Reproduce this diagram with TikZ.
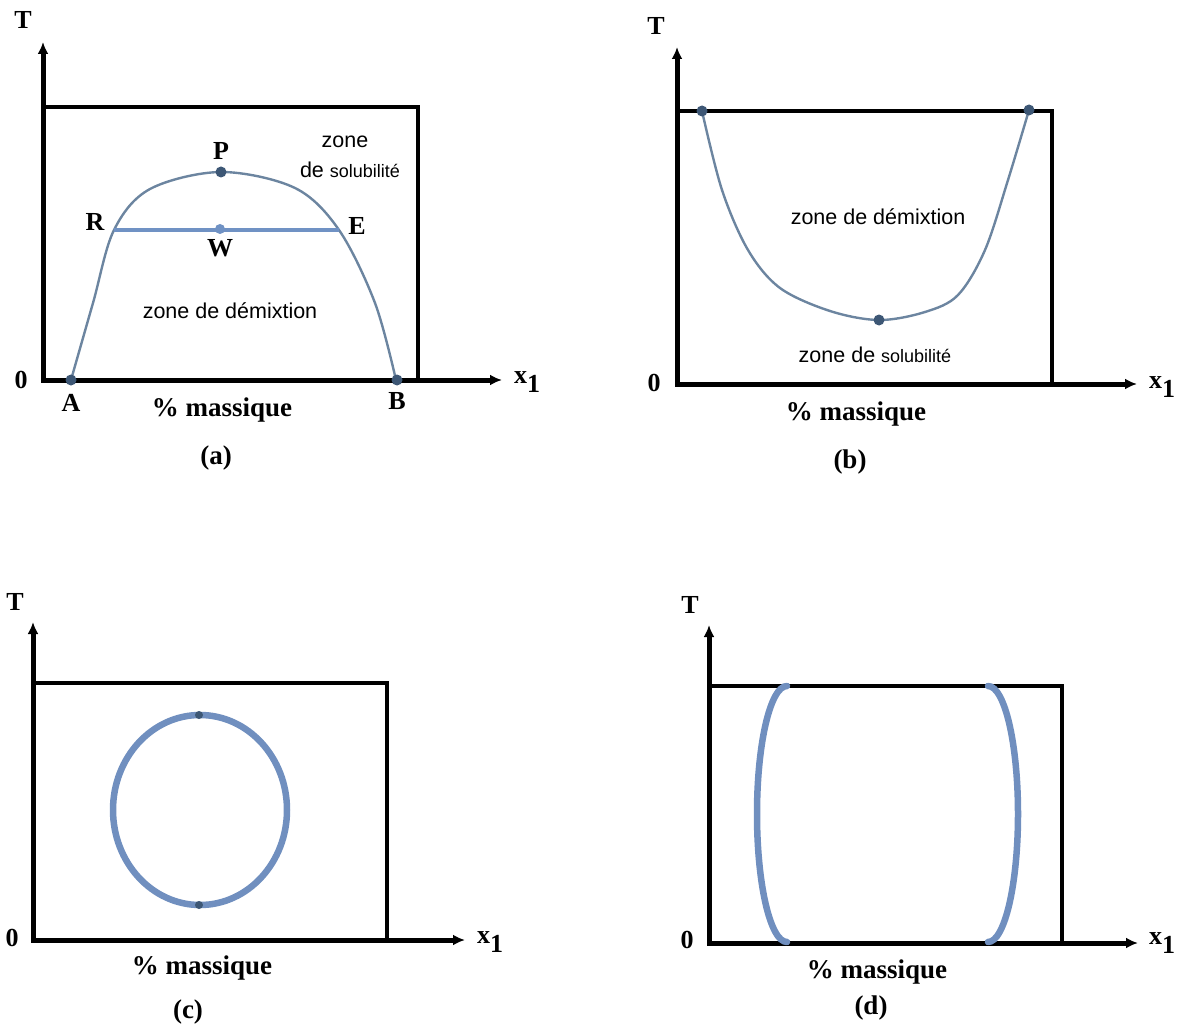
\documentclass[tikz,border=0pt]{standalone}
\usepackage{fontspec}
\setmainfont{Liberation Serif}
\newfontfamily\zonefont{Liberation Sans}
\usepackage{tikz}
\usetikzlibrary{positioning,arrows.meta}
\definecolor{binodalcolor}{RGB}{108,133,160}
\definecolor{tiecolor}{RGB}{112,146,196}
\definecolor{dotcolor}{RGB}{61,87,117}
\definecolor{lenscolor}{RGB}{112,143,191}
\tikzset{
  axis line/.style={
    line width=5pt,
    line cap=rect,
    -{Latex[length=12pt,width=11pt]}
  },
  box line/.style={
    line width=4.5pt,
    line join=miter
  },
  binodal/.style={
    draw=binodalcolor,
    line width=2.4pt
  },
  tieline/.style={
    draw=tiecolor,
    line width=3.8pt
  },
  lens/.style={
    draw=lenscolor,
    line width=6.5pt
  },
  crit dot/.style={
    circle,
    fill=dotcolor,
    inner sep=0pt,
    minimum size=11pt
  },
  pt lbl/.style={
    font=\fontsize{26}{28}\selectfont\bfseries,
    inner sep=1pt
  },
  axlbl/.style={
    font=\fontsize{26}{28}\selectfont\bfseries,
    inner sep=0pt
  },
  captxt/.style={
    font=\fontsize{27}{30}\selectfont\bfseries,
    inner sep=0pt
  },
  zone text/.style={
    font=\zonefont\fontsize{21.5}{24}\selectfont,
    inner sep=0pt
  }
}
\newcommand{\smallsol}{\fontsize{18}{20}\selectfont solubilit\'e}

\begin{document}
\begin{tikzpicture}[x=1pt, y=-1pt]
  \useasboundingbox (0,0) rectangle (1184,1027);

  % frames and axes
  \foreach \n/\ox/\oy/\ty/\by/\bx/\tx in {a/43/380/42/107/418/502, b/677/384/47/111/1052/1137,
      c/33/940/622/683/387/465, d/709/943/625/686/1062/1138} {
    \coordinate (O\n) at (\ox,\oy);
    \coordinate (Ty\n) at (\ox,\ty);
    \coordinate (Tx\n) at (\tx,\oy);
    \draw[box line] (\ox,\by) -- (\bx,\by) -- (\bx,\oy);
    \draw[axis line] (O\n) -- (Ty\n);
    \draw[axis line] (O\n) -- (Tx\n);
  }

  % axis labels and captions
  \foreach \n/\Tx/\Ty/\Zx/\Zy/\Xx/\Xy/\Mx/\My/\Cx/\Cy in {a/23/20/21/380/527/382/222/410/216/458,
      b/656/26/654/383/1162/387/856/414/850/462, c/15/602/12/938/490/942/202/968/188/1012,
      d/690/605/687/940/1162/943/877/972/871/1008} {
    \node[axlbl] (T\n) at (\Tx,\Ty) {T};
    \node[axlbl] (zero\n) at (\Zx,\Zy) {0};
    \node[axlbl] (x\n) at (\Xx,\Xy) {x\raisebox{-0.35em}{1}};
    \node[captxt] (mass\n) at (\Mx,\My) {\% massique};
    \node[captxt] (cap\n) at (\Cx,\Cy) {(\n)};
  }

  % (a) upper critical point
  \draw[binodal] plot[smooth, tension=0.55] coordinates {(71,380) (93,303) (114,230) (150,189)
    (221,172) (295,188) (339,230) (375,303) (396,380)};
  \coordinate (R) at (114,230);
  \coordinate (E) at (339,230);
  \draw[tieline] (R) -- (E);
  \node[crit dot] (A) at (71,380) {};
  \node[crit dot] (B) at (397,380) {};
  \node[crit dot] (P) at (221,172) {};
  \node[crit dot, fill=tiecolor, minimum size=10pt] (W) at (220,229) {};
  \node[pt lbl, below=7pt of A] (lblA) {A};
  \node[pt lbl, below=6pt of B] (lblB) {B};
  \node[pt lbl, above=6pt of P] (lblP) {P};
  \node[pt lbl, below=4pt of W] (lblW) {W};
  \node[pt lbl] (lblR) at (95,222) {R};
  \node[pt lbl] (lblE) at (357,226) {E};
  \node[zone text] (solA1) at (345,142) {zone};
  \node[zone text] (solA2) at (350,170) {de \smallsol};
  \node[zone text] (demA) at (230,311) {zone de d\'emixtion};

  % (b) lower critical point
  \draw[binodal] plot[smooth, tension=0.55] coordinates {(702,111) (722,190) (748,250) (780,288)
    (830,311) (879,320) (925,312) (958,295) (985,250) (1008,180) (1029,110)};
  \node[crit dot] (Lb) at (702,111) {};
  \node[crit dot] (Rb) at (1029,110) {};
  \node[crit dot] (Mb) at (879,320) {};
  \node[zone text] (demB) at (878,217) {zone de d\'emixtion};
  \node[zone text] (solB) at (875,355) {zone de \smallsol};

  % (c) closed loop
  \draw[lens] (200,810) ellipse[x radius=87, y radius=95];
  \node[crit dot, minimum size=8pt] (Uc) at (199,715) {};
  \node[crit dot, minimum size=8pt] (Dc) at (199,905) {};

  % (d) two branches
  \draw[lens, line cap=round] (787,686) arc[start angle=-90, end angle=-270, x radius=30, y radius=128];
  \draw[lens, line cap=round] (988,686) arc[start angle=-90, end angle=90, x radius=30, y radius=128];
\end{tikzpicture}
\end{document}
